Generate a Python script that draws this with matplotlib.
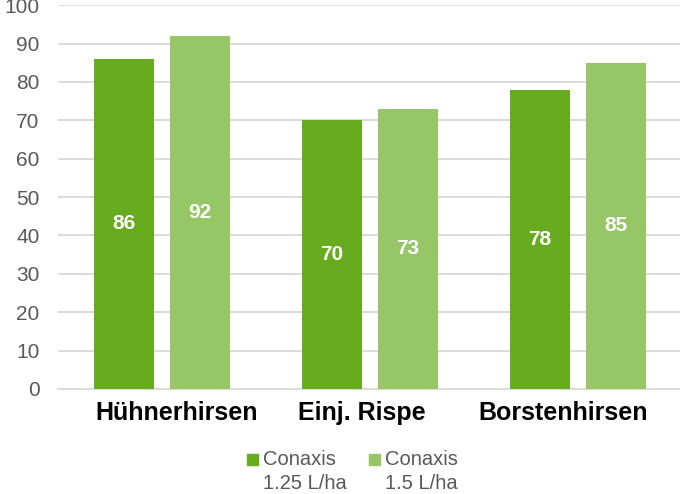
import matplotlib.pyplot as plt
import numpy as np
from matplotlib.patches import Rectangle
from matplotlib.legend_handler import HandlerPatch
from matplotlib.transforms import ScaledTranslation

plt.rcParams["font.family"] = ["Liberation Sans", "DejaVu Sans"]

# Data
categories = ["Hühnerhirsen", "Einj. Rispe", "Borstenhirsen"]
series_names = ["Conaxis\n1.25 L/ha", "Conaxis\n1.5 L/ha"]
dose_125 = [86, 70, 78]
dose_150 = [92, 73, 85]
colors = ["#67ab1f", "#96c665"]

fig = plt.figure(figsize=(6.8, 4.94), dpi=100)
ax = fig.add_axes([0.085, 0.2126, 0.918, 0.777])

x = np.arange(len(categories))
w = 0.288
off = (w + 0.077) / 2
for vals, c, dx in zip([dose_125, dose_150], colors, [-off, off]):
    bars = ax.bar(x + dx, vals, width=w, color=c, zorder=3)
    for b, v in zip(bars, vals):
        ax.text(b.get_x() + b.get_width() / 2, v / 2, f"{v}", ha="center", va="center",
                color="white", fontsize=15, fontweight="bold", zorder=4)

ax.set_xlim(-0.5, 2.5)
ax.set_ylim(0, 100)
ax.set_yticks(range(0, 101, 10))
ax.yaxis.grid(True, color="#d9d9d9", linewidth=1.3, zorder=0)
ax.set_xticks(x)
ax.set_xticklabels(categories, fontsize=18, fontweight="bold", color="black")
ax.tick_params(axis="y", labelsize=15, labelcolor="#595959", length=0, pad=13)
ax.tick_params(axis="x", length=0, pad=9)
for s in ["top", "right", "left"]:
    ax.spines[s].set_visible(False)
ax.spines["bottom"].set_color("#d9d9d9")
ax.spines["bottom"].set_linewidth(1.3)

# category labels in the original are not quite centred under the groups
for lab, shift in zip(ax.get_xticklabels(), [15, -8, -15]):
    lab.set_transform(lab.get_transform() + ScaledTranslation(shift / 100, 0, fig.dpi_scale_trans))


# square next to the first line of a two-line label
def top_square(legend, orig_handle, xdescent, ydescent, width, height, fontsize):
    s = fontsize * 0.55
    return Rectangle((-xdescent, -ydescent + height - s + fontsize * 0.08), s, s)


handles = [Rectangle((0, 0), 1, 1, color=c) for c in colors]
leg = fig.legend(handles, series_names, loc="lower center", bbox_to_anchor=(0.518, -0.035),
                 ncol=2, frameon=False, fontsize=14.5, handlelength=0.55, handleheight=2.3,
                 handletextpad=0.25, columnspacing=1.1,
                 handler_map={Rectangle: HandlerPatch(patch_func=top_square)})
for t in leg.get_texts():
    t.set_color("#595959")
    t.set_linespacing(1.35)

fig.savefig("out.png", dpi=100)
